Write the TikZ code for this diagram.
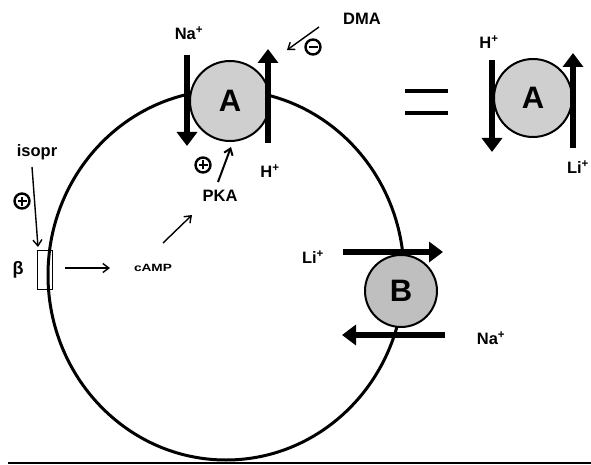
\documentclass[tikz,border=0pt]{standalone}
\usepackage{fontspec}
\setmainfont{Liberation Sans}
\usetikzlibrary{arrows.meta}
\begin{document}
\begin{tikzpicture}[x=1pt,y=-1pt,
  lbl/.style={font=\bfseries\fontsize{16.5}{18}\selectfont, inner sep=0pt},
  small/.style={font=\bfseries\fontsize{10.5}{12}\selectfont, inner sep=0pt},
  pump/.style={circle, draw, line width=2pt, fill=black!19, inner sep=0pt,
               font=\bfseries\fontsize{31}{33}\selectfont},
  flux/.style={line width=6pt, -{Triangle[width=20pt,length=14pt]}},
  thin/.style={line width=1.4pt, -{Straight Barb[length=6pt,width=9pt]}},
  sign/.style={circle, draw, line width=2.4pt, minimum size=15pt, inner sep=0pt}]
\useasboundingbox (0,0) rectangle (591,465);
% cell
\draw[line width=3pt] (226,275) ellipse [x radius=178, y radius=185];
\draw[line width=2pt] (8,463) -- (591,463);
% beta receptor
\node[draw, line width=0.8pt, minimum width=15pt, minimum height=39pt, inner sep=0pt] (R) at (44.5,269.5) {};
\node[font=\bfseries\fontsize{18}{20}\selectfont, inner sep=0pt] (beta) at (18,270) {β};
\node[lbl] (iso) at (37,152) {isopr};
\coordinate (isoS) at (32,167);
\coordinate (isoE) at (38,247);
\draw[thin] (isoS) -- (isoE);
\node[sign] (p1) at (22,201) {};
\draw[line width=2pt] ([xshift=-4.5pt]p1.center) -- ([xshift=4.5pt]p1.center)
  ([yshift=-4.5pt]p1.center) -- ([yshift=4.5pt]p1.center);
\node[small] (camp) at (153,268) {\scalebox{1.3}[1]{cAMP}};
\coordinate (bR) at (65,268);
\coordinate (cL) at (110,268);
\draw[thin] (bR) -- (cL);
\coordinate (cS) at (163,243);
\coordinate (kE) at (192,215);
\draw[thin] (cS) -- (kE);
\node[lbl] (pka) at (220,196) {PKA};
\coordinate (kS) at (218,182);
\coordinate (aE) at (231,147);
\draw[line width=2pt, -{Straight Barb[length=6pt,width=9pt]}] (kS) -- (aE);
\node[sign] (p2) at (203,165) {};
\draw[line width=2pt] ([xshift=-4.5pt]p2.center) -- ([xshift=4.5pt]p2.center)
  ([yshift=-4.5pt]p2.center) -- ([yshift=4.5pt]p2.center);
% exchanger A
\node[pump, minimum size=80pt] (A) at (230,101) {A};
\coordinate (na1) at (187,55);
\coordinate (na2) at (187,146);
\draw[flux] (na1) -- (na2);
\coordinate (h1) at (268,143);
\coordinate (h2) at (268,49);
\draw[flux] (h1) -- (h2);
\node[lbl] (naA) at (189,33) {Na\textsuperscript{+}};
\node[lbl] (hA) at (270,171) {H\textsuperscript{+}};
\node[lbl] (dma) at (362,19) {DMA};
\coordinate (dS) at (319,27);
\coordinate (dE) at (287,50);
\draw[thin] (dS) -- (dE);
\node[sign] (m1) at (313,47) {};
\draw[line width=2.2pt] ([xshift=-4.5pt]m1.center) -- ([xshift=4.5pt]m1.center);
% equal sign
\coordinate (e1) at (405,91); \coordinate (e2) at (448,91);
\coordinate (e3) at (405,113); \coordinate (e4) at (448,113);
\draw[line width=4pt] (e1) -- (e2) (e3) -- (e4);
% right A
\node[pump, minimum size=78pt] (A2) at (533,98) {A};
\coordinate (r1) at (492,60);
\coordinate (r2) at (492,152);
\draw[flux] (r1) -- (r2);
\coordinate (r3) at (573,148);
\coordinate (r4) at (573,53);
\draw[flux] (r3) -- (r4);
\node[lbl] (hR) at (489,42) {H\textsuperscript{+}};
\node[lbl] (liR) at (578,167) {Li\textsuperscript{+}};
% exchanger B
\node[pump, minimum size=72pt, fill=black!25] (B) at (401,291) {B};
\coordinate (b1) at (343,252);
\coordinate (b2) at (443,252);
\draw[flux] (b1) -- (b2);
\coordinate (b3) at (445,335);
\coordinate (b4) at (342,335);
\draw[flux] (b3) -- (b4);
\node[lbl] (liB) at (313,257) {Li\textsuperscript{+}};
\node[lbl] (naB) at (491,338) {Na\textsuperscript{+}};
\end{tikzpicture}
\end{document}
